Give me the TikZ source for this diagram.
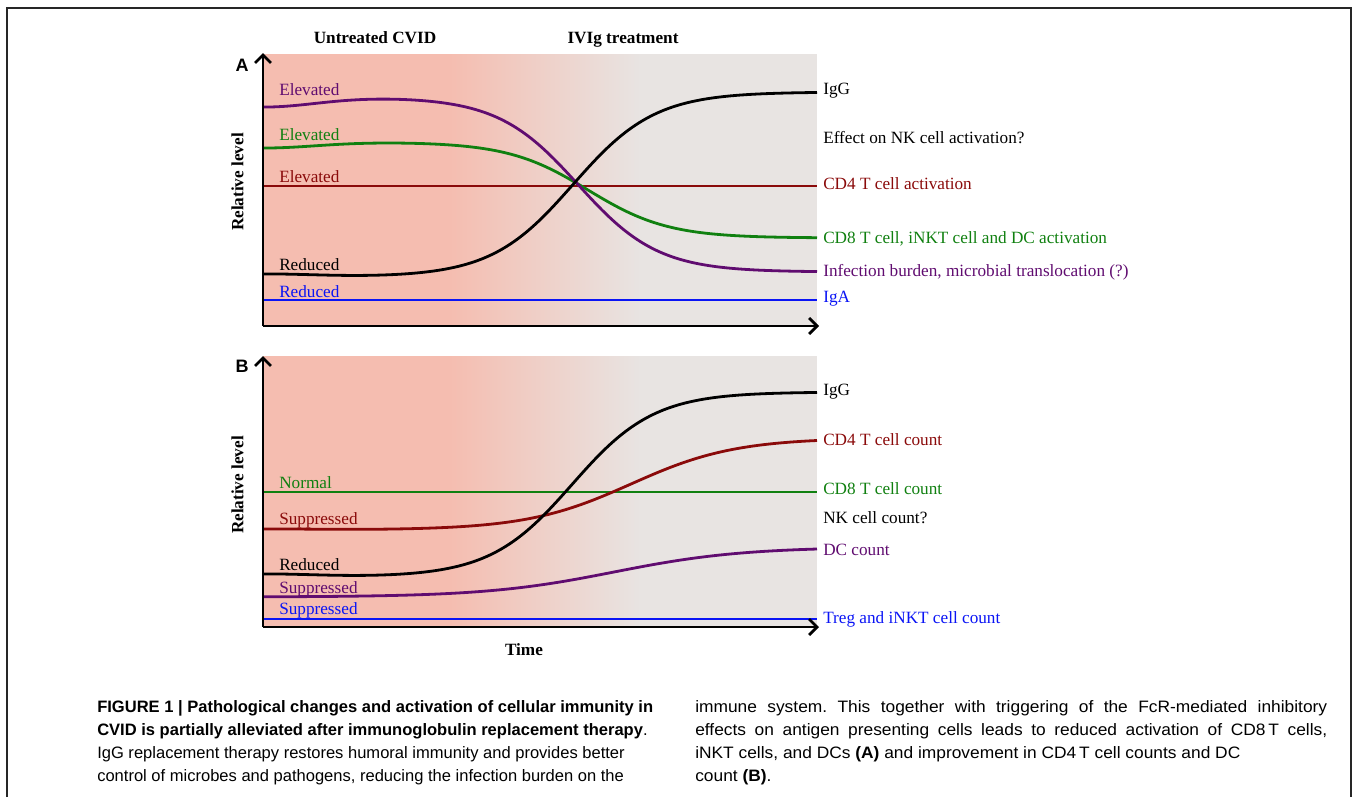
\documentclass[tikz,border=0pt]{standalone}
\usepackage{graphicx}
\usepackage{fontspec}
\setmainfont{Liberation Serif}
\newfontfamily\capfont{Liberation Sans}
\usetikzlibrary{arrows.meta}
\definecolor{cpink}{RGB}{245,189,176}
\definecolor{cgray}{RGB}{232,228,226}
\definecolor{cpurple}{RGB}{96,12,112}
\definecolor{cgreen}{RGB}{16,128,16}
\definecolor{cred}{RGB}{138,10,10}
\definecolor{cblue}{RGB}{10,20,245}
\tikzset{
  lab/.style={anchor=west, inner sep=0pt, text height=0.66em, text depth=0pt, font=\fontsize{12.9}{15}\selectfont},
  head/.style={anchor=center, inner sep=0pt, text height=0.66em, text depth=0pt, font=\fontsize{12.9}{15}\selectfont\bfseries},
  panel/.style={anchor=center, inner sep=0pt, text height=0.72em, text depth=0pt, font=\fontsize{13.5}{15}\selectfont\capfont\bfseries},
  capl/.style={anchor=west, inner sep=0pt, text height=0.72em, text depth=0pt, font=\fontsize{12.4}{15}\selectfont\capfont\frenchspacing},
  curve/.style={line width=2.1pt},
  flat/.style={line width=1.6pt},
  axisline/.style={line width=2.2pt, black, -{Straight Barb[length=6pt,width=12pt,line width=2pt]}},
}
\newcommand{\rcol}[1]{\scalebox{1.05}[1]{#1}}
\newcommand{\rjust}[1]{\scalebox{1.05}[1]{\makebox[451.4pt][s]{#1}}}
\begin{document}
\begin{tikzpicture}[x=0.75pt,y=-0.75pt]
\useasboundingbox (0,0) rectangle (1354,797);
% frame
\draw[line width=1.1pt, black!85] (7,797) -- (7,8) -- (1351,8) -- (1351,797);
% backgrounds
\foreach \ya/\yb in {54/325, 356/627}{
  \fill[cpink] (263,\ya) rectangle (450,\yb);
  \shade[left color=cpink, right color=cgray] (449.5,\ya) rectangle (640.5,\yb);
  \fill[cgray] (640,\ya) rectangle (817,\yb);
}
% ---------- Panel A curves
\draw[cred, flat] (263,186) -- (817,186);
\draw[cblue, curve] (263,300) -- (817,300);
\draw[cgreen, curve] plot[domain=263:817, samples=160, smooth] (\x, {142+96/(1+exp(-(\x-588)/40)) + 6*exp(-((\x-263)/75)^2)});
\draw[cpurple, curve] plot[domain=263:817, samples=160, smooth] (\x, {97+175/(1+exp(-(\x-578)/40)) + 10*exp(-((\x-263)/75)^2)});
\draw[black, curve] plot[domain=263:817, samples=160, smooth] (\x, {277-185/(1+exp(-(\x-573)/41)) - 3*exp(-((\x-263)/75)^2)});
% ---------- Panel B curves
\draw[cgreen, flat] (263,492) -- (817,492);
\draw[cblue, curve] (263,619) -- (817,619);
\draw[cpurple, curve] plot[domain=263:817, samples=160, smooth] (\x, {597-50/(1+exp(-(\x-614)/64))});
\draw[cred, curve] plot[domain=263:817, samples=160, smooth] (\x, {530-92/(1+exp(-(\x-631)/52)) - 1*exp(-((\x-263)/75)^2)});
\draw[black, curve] plot[domain=263:817, samples=160, smooth] (\x, {577-185/(1+exp(-(\x-572)/41)) - 3*exp(-((\x-263)/75)^2)});
% ---------- axes
\coordinate (Ao) at (263,326);
\coordinate (Ay) at (263,53);
\coordinate (Ax) at (819,326);
\coordinate (Bo) at (263,627);
\coordinate (By) at (263,356);
\coordinate (Bx) at (819,627);
\draw[axisline] (Ao) -- (Ay);
\draw[axisline] (Ao) -- (Ax);
\draw[axisline] (Bo) -- (By);
\draw[axisline] (Bo) -- (Bx);
% ---------- headings
\node[head] (h1) at (375,39) {Untreated CVID};
\node[head] (h2) at (623,39) {IVIg treatment};
\node[panel] (pA) at (242,67) {A};
\node[panel] (pB) at (242,368) {B};
\node[head, rotate=90] (rA) at (239,182) {Relative level};
\node[head, rotate=90] (rB) at (239,485) {Relative level};
\node[head] (tm) at (524,651) {Time};
% ---------- Panel A labels
\node[lab, text=cpurple] (a1) at (279,91) {Elevated};
\node[lab, text=cgreen] (a2) at (279,136) {Elevated};
\node[lab, text=cred] (a3) at (279,178) {Elevated};
\node[lab, text=black] (a4) at (279,266) {Reduced};
\node[lab, text=cblue] (a5) at (279,293) {Reduced};
\node[lab, text=black] (ar1) at (823,90) {IgG};
\node[lab, text=black] (ar2) at (823,139) {Effect on NK cell activation?};
\node[lab, text=cred] (ar3) at (823,185) {CD4 T cell activation};
\node[lab, text=cgreen] (ar4) at (823,239) {CD8 T cell, iNKT cell and DC activation};
\node[lab, text=cpurple] (ar5) at (823,272) {Infection burden, microbial translocation (?)};
\node[lab, text=cblue] (ar6) at (823,298) {IgA};
% ---------- Panel B labels
\node[lab, text=cgreen] (b1) at (279,484) {Normal};
\node[lab, text=cred] (b2) at (279,520) {Suppressed};
\node[lab, text=black] (b3) at (279,566) {Reduced};
\node[lab, text=cpurple] (b4) at (279,589) {Suppressed};
\node[lab, text=cblue] (b5) at (279,610) {Suppressed};
\node[lab, text=black] (br1) at (823,391) {IgG};
\node[lab, text=cred] (br2) at (823,441) {CD4 T cell count};
\node[lab, text=cgreen] (br3) at (823,490) {CD8 T cell count};
\node[lab, text=black] (br4) at (823,519) {NK cell count?};
\node[lab, text=cpurple] (br5) at (823,551) {DC count};
\node[lab, text=cblue] (br6) at (823,619) {Treg and iNKT cell count};
% ---------- caption
\node[capl] (c1) at (97,708) {\bfseries FIGURE 1 | Pathological changes and activation of cellular immunity in};
\node[capl] (c2) at (97,731) {\textbf{CVID is partially alleviated after immunoglobulin replacement therapy}.};
\node[capl] (c3) at (97,754) {IgG replacement therapy restores humoral immunity and provides better};
\node[capl] (c4) at (97,777) {control of microbes and pathogens, reducing the infection burden on the};
\node[capl] (c5) at (695,708) {\rjust{immune system. This together with triggering of the FcR-mediated inhibitory}};
\node[capl] (c6) at (695,731) {\rjust{effects on antigen presenting cells leads to reduced activation of CD8\,T cells,}};
\node[capl] (c7) at (695,754) {\rcol{iNKT cells, and DCs \textbf{(A)} and improvement in CD4\,T cell counts and DC}};
\node[capl] (c8) at (695,777) {\rcol{count \textbf{(B)}.}};
\end{tikzpicture}
\end{document}
